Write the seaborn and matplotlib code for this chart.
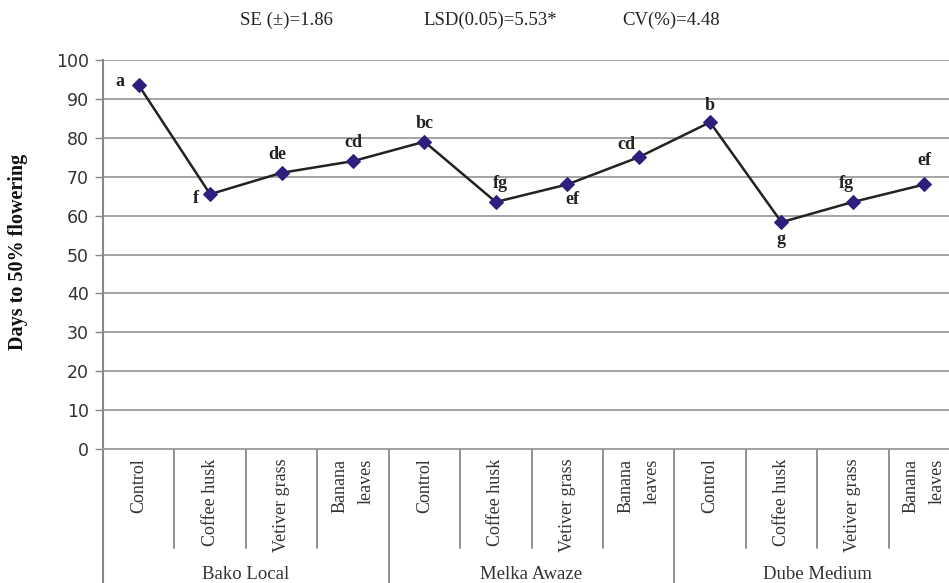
import numpy as np
import pandas as pd
import matplotlib.pyplot as plt
import seaborn as sns

# Data
varieties = ['Bako Local', 'Melka Awaze', 'Dube Medium']
treatments = ['Control', 'Coffee husk', 'Vetiver grass', 'Banana\nleaves']
days = [93.5, 65.5, 71.0, 74.0, 79.0, 63.5, 68.0, 75.0, 84.0, 58.3, 63.5, 68.0]
letters = ['a', 'f', 'de', 'cd', 'bc', 'fg', 'ef', 'cd', 'b', 'g', 'fg', 'ef']
stats_text = ['SE (±)=1.86', 'LSD(0.05)=5.53*', 'CV(%)=4.48']

df = pd.DataFrame({
    'variety': np.repeat(varieties, len(treatments)),
    'treatment': treatments * len(varieties),
    'days': days,
    'letter': letters,
})
df['pos'] = np.arange(len(df))

# label offsets in points (dx, dy, ha, va)
offsets = [(-10, 3, 'right', 'center'), (-8, -3, 'right', 'center'),
           (-3, 7, 'center', 'bottom'), (0, 7, 'center', 'bottom'),
           (0, 7, 'center', 'bottom'), (3, 7, 'center', 'bottom'),
           (4, -5, 'center', 'top'), (-9, 3, 'center', 'bottom'),
           (0, 6, 'center', 'bottom'), (0, -6, 'center', 'top'),
           (-5, 7, 'center', 'bottom'), (0, 11, 'center', 'bottom')]

sns.set_style('white')
fig = plt.figure(figsize=(9.49, 5.83), dpi=100)
ax = fig.add_axes([103 / 949, 134 / 583, 857 / 949, 389 / 583])

grid_c = '#9c9c9c'
for v in range(10, 101, 10):
    ax.axhline(v, color=grid_c, lw=1.3, zorder=0)

sns.lineplot(data=df, x='pos', y='days', ax=ax, color='#222222', lw=1.8,
             marker='D', markersize=7, markerfacecolor='#2d1f7d',
             markeredgecolor='#2d1f7d', zorder=3)

for (_, r), (dx, dy, ha, va) in zip(df.iterrows(), offsets):
    ax.annotate(r['letter'], (r['pos'], r['days']), xytext=(dx, dy),
                textcoords='offset points', ha=ha, va=va, fontsize=13,
                fontweight='bold', family='Liberation Serif', color='#222222')

ax.set_xlim(-0.5, len(df) - 0.5)
ax.set_ylim(0, 100)
ax.set_yticks(range(0, 101, 10))
ax.tick_params(axis='y', length=6, width=1, color='#888888', labelsize=12.5,
               labelcolor='#333333', pad=4, left=True)
ax.set_xticks(df['pos'])
ax.set_xticklabels(df['treatment'], rotation=90, va='top', ha='center',
                   multialignment='right', linespacing=1.7,
                   family='Liberation Serif', fontsize=13, color='#333333')
ax.tick_params(axis='x', length=0, pad=7)
ax.set_xlabel('')
ax.set_ylabel('')

for s in ['top', 'right']:
    ax.spines[s].set_visible(False)
ax.spines['left'].set_color('#888888')
ax.spines['left'].set_linewidth(1.5)
ax.spines['bottom'].set_color('#999999')
ax.spines['bottom'].set_linewidth(1.3)

# category box lines below the axis
trans = ax.get_xaxis_transform()
n_t = len(treatments)
for i in range(1, len(df)):
    bottom = -0.40 if i % n_t == 0 else -0.255
    ax.plot([i - 0.5, i - 0.5], [0, bottom], transform=trans, color='#888888',
            lw=1.3, clip_on=False)
ax.plot([-0.5, -0.5], [0, -0.40], transform=trans, color='#888888', lw=1.5,
        clip_on=False)

for g, name in enumerate(varieties):
    ax.text(g * n_t + (n_t - 1) / 2, -0.300, name, transform=trans,
            ha='center', va='top', fontsize=13.5, family='Liberation Serif',
            color='#333333')

fig.text(18 / 949, 1 - 252 / 583, 'Days to 50% flowering', rotation=90,
         ha='center', va='center', fontsize=14.5, fontweight='bold',
         family='Liberation Serif', color='#111111')

for x, t in zip([286, 490, 671], stats_text):
    fig.text(x / 949, 1 - 20 / 583, t, ha='center', va='center', fontsize=13.5,
             family='Liberation Serif', color='#222222')

fig.savefig('out.png', dpi=100)
